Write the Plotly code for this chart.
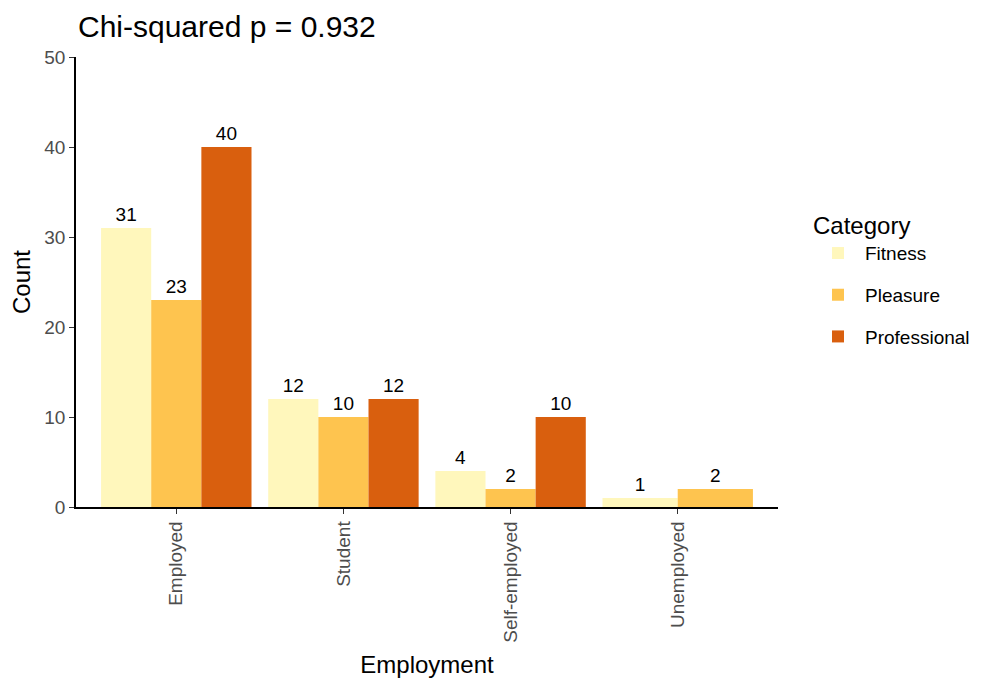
import plotly.graph_objects as go

categories = ["Employed", "Student", "Self-employed", "Unemployed"]
series_names = ["Fitness", "Pleasure", "Professional"]
fitness = [31, 12, 4, 1]
pleasure = [23, 10, 2, 2]
professional = [40, 12, 10, None]
colors = ["#FFF7BC", "#FEC44F", "#D95F0E"]
y_ticks = [0, 10, 20, 30, 40, 50]

values = [fitness, pleasure, professional]

# ggplot-style dodge: bars in each category share a total width of 0.9
present = [[v[i] is not None for v in values] for i in range(len(categories))]
widths, offsets = [], []
for s in range(len(series_names)):
    w_list, o_list = [], []
    for i in range(len(categories)):
        n = sum(present[i])
        w = 0.9 / n
        k = sum(present[i][:s])
        w_list.append(w)
        o_list.append(-0.45 + k * w)
    widths.append(w_list)
    offsets.append(o_list)

FONT = "Liberation Sans"

fig = go.Figure()
for s, name in enumerate(series_names):
    fig.add_trace(go.Bar(
        x=categories, y=values[s], name=name,
        marker=dict(color=colors[s], line=dict(width=0)),
        width=widths[s], offset=offsets[s],
        text=[("" if v is None else str(v)) for v in values[s]],
        textposition="outside", cliponaxis=False,
        textfont=dict(size=19, color="black", family=FONT),
        legendgroup=name,
    ))

fig.update_layout(
    barmode="overlay",
    width=965, height=670,
    margin=dict(l=68, r=195, t=49, b=171, autoexpand=False),
    paper_bgcolor="white", plot_bgcolor="white",
    font=dict(family=FONT, color="black"),
    title=dict(text="Chi-squared p = 0.932", x=70/965, xanchor="left",
               y=1 - 18/670, yanchor="middle", font=dict(size=30, color="black")),
    legend=dict(title=dict(text="Category", font=dict(size=24)),
                font=dict(size=19), x=1.047, xanchor="left", y=0.6756, yanchor="top",
                tracegroupgap=14, itemsizing="constant", itemwidth=44),
    showlegend=True,
)
fig.update_xaxes(
    type="category", range=[-0.6, 3.6],
    showline=True, linecolor="black", linewidth=1.5,
    ticks="outside", ticklen=5, tickcolor="#333333", tickwidth=1.2,
    tickangle=-90, tickfont=dict(size=19, color="#4D4D4D"),
    title=dict(text="Employment", font=dict(size=24), standoff=27),
    showgrid=False, zeroline=False,
)
fig.update_yaxes(
    range=[0, 50], tickvals=y_ticks,
    showline=True, linecolor="black", linewidth=1.5,
    ticks="outside", ticklen=5, tickcolor="#333333", tickwidth=1.2,
    tickfont=dict(size=19, color="#4D4D4D"),
    title=dict(text="Count", font=dict(size=24), standoff=10),
    showgrid=False, zeroline=False,
)

fig.write_html("out.html")
